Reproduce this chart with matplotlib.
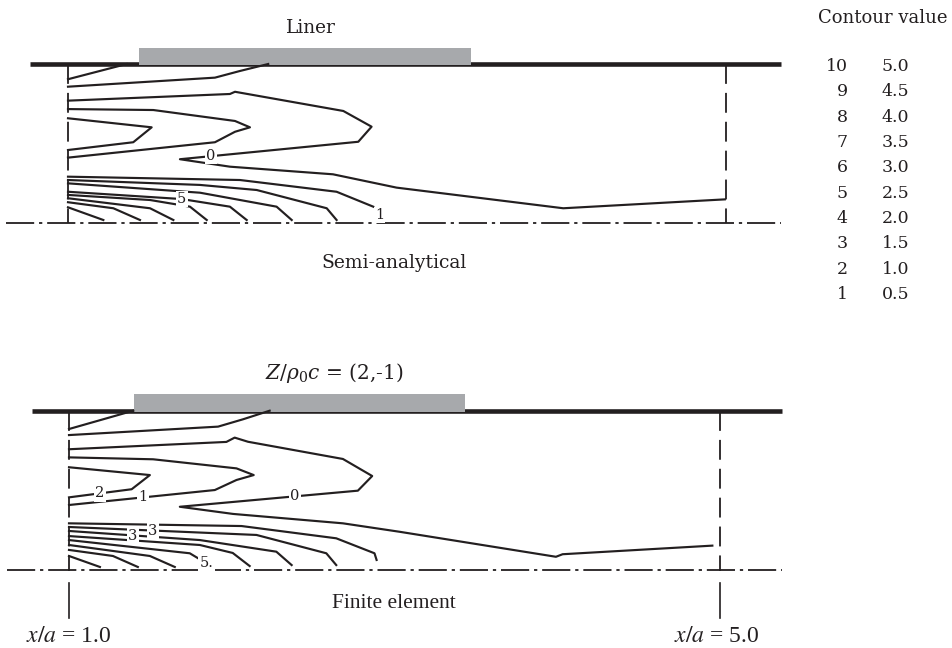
import matplotlib
matplotlib.use("Agg")
import matplotlib.pyplot as plt
from matplotlib.patches import Rectangle

# ---------------- data (x/a along duct, r/a across duct) ----------------
x_inlet, x_outlet = 1.0, 5.0
sa_wall_x = [0.77, 5.34]
fe_wall_x = [0.77, 5.38]
sa_axis_x = [0.62, 5.34]
fe_axis_x = [0.62, 5.38]
sa_liner_x = [1.432, 3.451]
fe_liner_x = [1.399, 3.436]
liner_h = 0.11

contour_ids = ["10", "9", "8", "7", "6", "5", "4", "3", "2", "1"]
contour_vals = ["5.0", "4.5", "4.0", "3.5", "3.0", "2.5", "2.0", "1.5", "1.0", "0.5"]

# Semi-analytical contour lines
sa_a_x = [1.357, 1.0]
sa_a_r = [1.0, 0.904]
sa_b_x = [1.0, 1.894, 2.046, 2.218]
sa_b_r = [0.857, 0.914, 0.956, 1.0]
sa_0_x = [1.0, 1.985, 2.016, 2.675, 2.847, 2.766, 1.681, 1.985, 2.612, 2.999, 4.013, 4.996]
sa_0_r = [0.769, 0.811, 0.825, 0.704, 0.605, 0.510, 0.400, 0.353, 0.305, 0.221, 0.091, 0.147]
sa_c_x = [1.0, 1.519, 2.016, 2.107, 2.016, 1.894, 1.0]
sa_c_r = [0.716, 0.710, 0.641, 0.601, 0.573, 0.507, 0.410]
sa_d_x = [1.0, 1.509, 1.397, 1.0]
sa_d_r = [0.658, 0.601, 0.507, 0.458]
sa_1_x = [1.0, 2.046, 2.634, 2.857]
sa_1_r = [0.290, 0.269, 0.195, 0.101]
sa_2_x = [1.0, 1.803, 2.148, 2.574, 2.634]
sa_2_r = [0.269, 0.238, 0.206, 0.091, 0.017]
sa_3_x = [1.0, 1.803, 2.269, 2.361]
sa_3_r = [0.248, 0.189, 0.101, 0.017]
sa_4_x = [1.0, 1.692, 1.985, 2.087]
sa_4_r = [0.195, 0.149, 0.101, 0.017]
sa_5_x = [1.0, 1.499, 1.742, 1.844]
sa_5_r = [0.175, 0.143, 0.101, 0.017]
sa_6_x = [1.0, 1.499, 1.641]
sa_6_r = [0.154, 0.091, 0.017]
sa_7_x = [1.0, 1.276, 1.438]
sa_7_r = [0.129, 0.091, 0.017]
sa_8_x = [1.0, 1.215]
sa_8_r = [0.097, 0.017]
sa_label_text = ["0", "5", "1"]
sa_label_x = [1.868, 1.692, 2.895]
sa_label_r = [0.422, 0.149, 0.050]

# Finite element contour lines
fe_a_x = [1.395, 1.0]
fe_a_r = [1.0, 0.885]
fe_b_x = [1.0, 1.916, 2.069, 2.233]
fe_b_r = [0.847, 0.900, 0.946, 1.0]
fe_0_x = [1.0, 1.967, 2.018, 2.100, 2.683, 2.863, 2.775, 1.681, 2.008, 2.683, 3.031, 3.992, 4.033, 4.953]
fe_0_r = [0.758, 0.804, 0.831, 0.805, 0.697, 0.590, 0.498, 0.397, 0.352, 0.293, 0.240, 0.083, 0.099, 0.153]
fe_c_x = [1.0, 1.517, 2.029, 2.135, 2.029, 1.896, 1.0]
fe_c_r = [0.707, 0.695, 0.638, 0.596, 0.565, 0.502, 0.408]
fe_d_x = [1.0, 1.497, 1.385, 1.0]
fe_d_r = [0.645, 0.596, 0.507, 0.456]
fe_1_x = [1.0, 2.060, 2.642, 2.877, 2.890]
fe_1_r = [0.293, 0.276, 0.199, 0.105, 0.063]
fe_2_x = [1.0, 2.152, 2.581, 2.642]
fe_2_r = [0.270, 0.220, 0.105, 0.031]
fe_3_x = [1.0, 1.804, 2.274, 2.368]
fe_3_r = [0.245, 0.188, 0.115, 0.031]
fe_4_x = [1.0, 1.804, 2.006, 2.110]
fe_4_r = [0.213, 0.157, 0.107, 0.025]
fe_5_x = [1.0, 1.742, 1.791]
fe_5_r = [0.188, 0.105, 0.075]
fe_6_x = [1.0, 1.497, 1.650]
fe_6_r = [0.157, 0.088, 0.019]
fe_7_x = [1.0, 1.270, 1.423]
fe_7_r = [0.126, 0.088, 0.019]
fe_8_x = [1.0, 1.190]
fe_8_r = [0.088, 0.019]
fe_label_text = ["0", "1", "2", "3", "3", "5."]
fe_label_x = [2.387, 1.456, 1.190, 1.515, 1.393, 1.845]
fe_label_r = [0.465, 0.456, 0.481, 0.242, 0.213, 0.044]

# ---------------- drawing ----------------
W, H = 953, 648
INK = "#231f20"
GREY = "#a7a9ac"
SERIF = "DejaVu Serif"
plt.rcParams["mathtext.fontset"] = "dejavuserif"

fig = plt.figure(figsize=(W / 100, H / 100), dpi=100)


def make_panel(px_x1, px_x5, py_wall, py_axis):
    ax = fig.add_axes([0, 0, 1, 1])
    sx = (px_x5 - px_x1) / (x_outlet - x_inlet)
    sy = py_axis - py_wall
    ax.set_xlim(x_inlet - px_x1 / sx, x_inlet + (W - px_x1) / sx)
    ax.set_ylim((py_axis - H) / sy, py_axis / sy)
    ax.axis("off")
    ax.patch.set_alpha(0)
    return ax


def draw_duct(ax, wall_x, axis_x, liner_x, lines, lab_t, lab_x, lab_r, ticks=False):
    ax.plot(wall_x, [1, 1], color=INK, lw=3.3, solid_capstyle="butt", zorder=2)
    ax.add_patch(Rectangle((liner_x[0], 0.993), liner_x[1] - liner_x[0], liner_h,
                           facecolor=GREY, edgecolor="none", zorder=3))
    ax.plot(axis_x, [0, 0], color=INK, lw=1.3, dashes=(15.6, 2.7, 1.8, 2.7), zorder=2)
    for xb in (x_inlet, x_outlet):
        ax.plot([xb, xb], [1.0, -0.005], color=INK, lw=1.3, dashes=(11, 5), zorder=2)
        if ticks:
            ax.plot([xb, xb], [-0.08, -0.30], color=INK, lw=1.2, zorder=2)
    for xs, rs in lines:
        ax.plot(xs, rs, color=INK, lw=1.55, zorder=4)
    for t, x, r in zip(lab_t, lab_x, lab_r):
        ax.text(x, r, t, ha="center", va="center", fontsize=10.5, family=SERIF,
                color=INK, zorder=6,
                bbox=dict(boxstyle="square,pad=0.08", fc="white", ec="none"))


ax_top = make_panel(68, 725.5, 64, 222.7)
draw_duct(ax_top, sa_wall_x, sa_axis_x, sa_liner_x,
          [(sa_a_x, sa_a_r), (sa_b_x, sa_b_r), (sa_0_x, sa_0_r), (sa_c_x, sa_c_r),
           (sa_d_x, sa_d_r), (sa_1_x, sa_1_r), (sa_2_x, sa_2_r), (sa_3_x, sa_3_r),
           (sa_4_x, sa_4_r), (sa_5_x, sa_5_r), (sa_6_x, sa_6_r), (sa_7_x, sa_7_r),
           (sa_8_x, sa_8_r)],
          sa_label_text, sa_label_x, sa_label_r)

ax_bot = make_panel(69, 720, 410.7, 570)
draw_duct(ax_bot, fe_wall_x, fe_axis_x, fe_liner_x,
          [(fe_a_x, fe_a_r), (fe_b_x, fe_b_r), (fe_0_x, fe_0_r), (fe_c_x, fe_c_r),
           (fe_d_x, fe_d_r), (fe_1_x, fe_1_r), (fe_2_x, fe_2_r), (fe_3_x, fe_3_r),
           (fe_4_x, fe_4_r), (fe_5_x, fe_5_r), (fe_6_x, fe_6_r), (fe_7_x, fe_7_r),
           (fe_8_x, fe_8_r)],
          fe_label_text, fe_label_x, fe_label_r, ticks=True)

# text layer in pixel coordinates
tax = fig.add_axes([0, 0, 1, 1])
tax.set_xlim(0, W)
tax.set_ylim(H, 0)
tax.axis("off")
tax.patch.set_alpha(0)

tax.text(311, 28, "Liner", ha="center", va="center", fontsize=13.3, family=SERIF, color=INK)
tax.text(394, 263, "Semi-analytical", ha="center", va="center", fontsize=13.5, family=SERIF, color=INK)
tax.text(883, 18, "Contour value", ha="center", va="center", fontsize=13, family=SERIF, color=INK)
for i, (cid, cv) in enumerate(zip(contour_ids, contour_vals)):
    y = 66.7 + 25.3 * i
    tax.text(848, y, cid, ha="right", va="center", fontsize=12.5, family=SERIF, color=INK)
    tax.text(882, y, cv, ha="left", va="center", fontsize=12.5, family=SERIF, color=INK)

tax.text(334, 373, r"$Z/\rho_0c$ = (2,-1)", ha="center", va="center", fontsize=14.5,
         family=SERIF, color=INK)
tax.text(394, 603, "Finite element", ha="center", va="center", fontsize=15.5,
         family="Liberation Serif", color=INK)
for xpos, lab in ((69, "1.0"), (717, "5.0")):
    tax.text(xpos, 636, r"$x/a$ = " + lab, ha="center", va="center", fontsize=17,
             family="Liberation Serif", math_fontfamily="stix", color=INK)

fig.savefig("out.png", dpi=100)
